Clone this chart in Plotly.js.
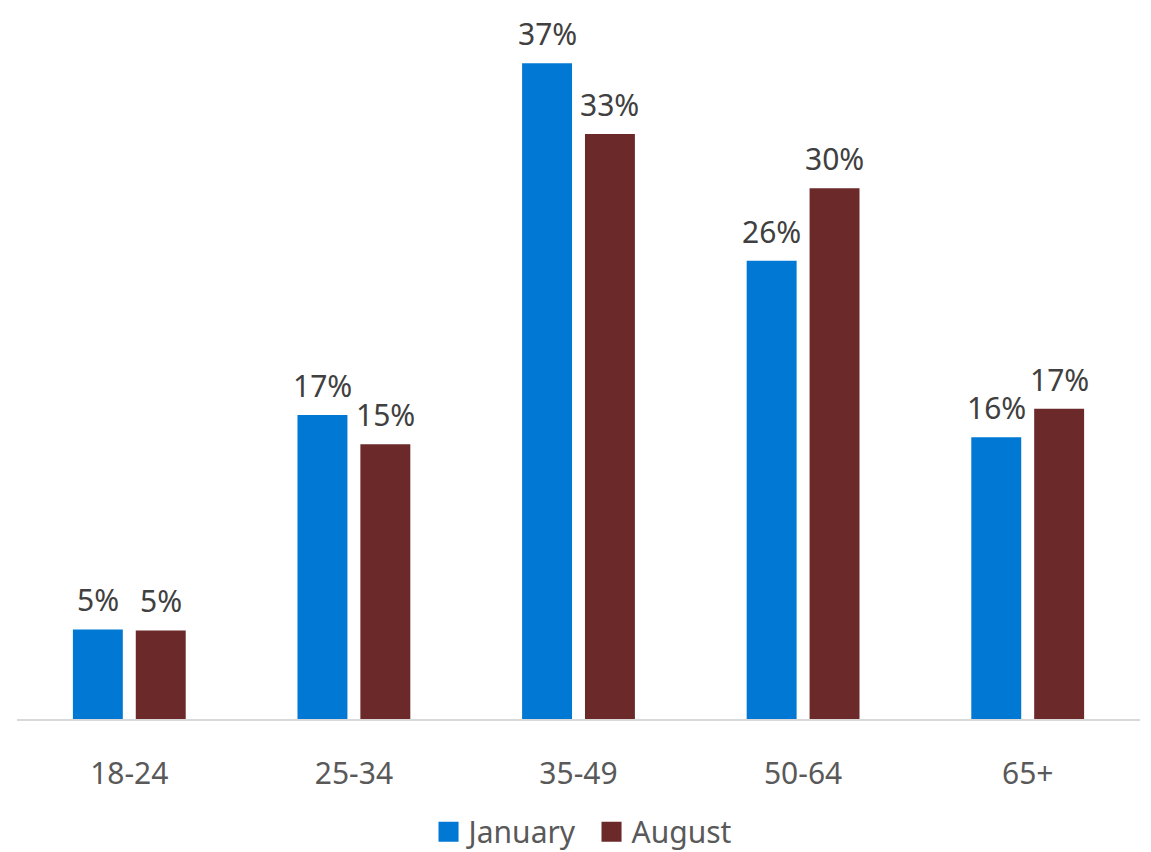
<!DOCTYPE html>
<html>
<head>
<meta charset="utf-8">
<script src="https://cdn.plot.ly/plotly-3.0.1.min.js"></script>
<style>html,body{margin:0;padding:0;background:#fff;}#chart{width:1151px;height:852px;}</style>
</head>
<body>
<div id="chart"></div>
<script>
var categories = ["18-24", "25-34", "35-49", "50-64", "65+"];
var seriesNames = ["January", "August"];
var januaryValues = [5.05, 17.15, 37.0, 25.85, 15.9];
var augustValues = [5.0, 15.5, 33.0, 29.95, 17.5];
var januaryLabels = ["5%", "17%", "37%", "26%", "16%"];
var augustLabels = ["5%", "15%", "33%", "30%", "17%"];

var FONT = "'Segoe UI', 'Noto Sans', 'Open Sans', sans-serif";
var COLORS = ["#0078D4", "#6B2929"];
var W = 1151, H = 852;
var M = {l: 17, r: 11, t: 10, b: 133};
var BARGAP = 0.44, GROUPGAP = 0.206;

var traces = [
  {
    type: "bar", name: seriesNames[0], x: categories, y: januaryValues,
    marker: {color: COLORS[0]}, hoverinfo: "x+y"
  },
  {
    type: "bar", name: seriesNames[1], x: categories, y: augustValues,
    marker: {color: COLORS[1]}, hoverinfo: "x+y"
  }
];

// value labels placed at each bar's top through the data axes
var slotPx = (W - M.l - M.r) / categories.length * (1 - BARGAP) / 2;
var annotations = [];
[[januaryValues, januaryLabels, -1], [augustValues, augustLabels, 1]].forEach(function (s) {
  s[0].forEach(function (v, i) {
    annotations.push({
      x: categories[i], y: v, xref: "x", yref: "y",
      text: s[1][i], showarrow: false,
      xanchor: "center", yanchor: "bottom",
      xshift: s[2] * slotPx / 2, yshift: 7,
      font: {family: FONT, size: 30, color: "#404040"}
    });
  });
});

var layout = {
  width: W, height: H,
  margin: {l: M.l, r: M.r, t: M.t, b: M.b, autoexpand: false},
  paper_bgcolor: "#ffffff", plot_bgcolor: "#ffffff",
  font: {family: FONT, color: "#595959"},
  barmode: "group", bargap: BARGAP, bargroupgap: GROUPGAP,
  xaxis: {
    type: "category", showgrid: false, zeroline: false,
    showline: true, linecolor: "#D9D9D9", linewidth: 2,
    ticks: "outside", ticklen: 27, tickcolor: "rgba(0,0,0,0)",
    tickfont: {family: FONT, size: 30, color: "#595959"}
  },
  yaxis: {
    range: [0, 40], visible: false, showgrid: false, zeroline: false, fixedrange: true
  },
  annotations: annotations,
  showlegend: true,
  legend: {
    orientation: "h", x: 0.5116, xanchor: "center", y: -0.159, yanchor: "middle",
    font: {family: FONT, size: 30, color: "#595959"},
    itemwidth: 30, tracegroupgap: 0, entrywidth: 118, bgcolor: "rgba(0,0,0,0)"
  }
};

Plotly.newPlot("chart", traces, layout, {displayModeBar: false, staticPlot: true}).then(function (gd) {
  // enlarge legend swatches to match reference size
  var paths = gd.querySelectorAll(".legend .legendpoints path");
  paths.forEach(function (p) {
    var t = p.getAttribute("transform") || "";
    p.setAttribute("transform", t + " scale(1.67)");
  });
});
</script>
</body>
</html>
